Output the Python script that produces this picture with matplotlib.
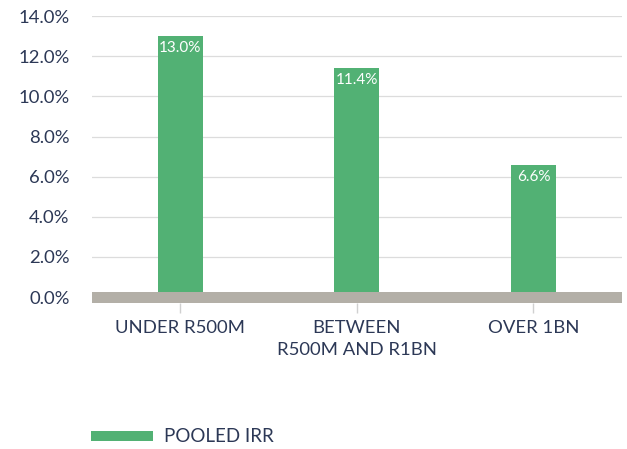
import matplotlib.pyplot as plt
from matplotlib.patches import Patch

# Pooled IRR by fund size
categories = ['UNDER R500M', 'BETWEEN\nR500M AND R1BN', 'OVER 1BN']
pooled_irr = [13.0, 11.4, 6.6]
y_ticks = [0, 2, 4, 6, 8, 10, 12, 14]

green = '#52b174'
navy = '#2c3856'
band = '#b3afa7'

plt.rcParams['font.family'] = ['Lato', 'DejaVu Sans']

fig = plt.figure(figsize=(6.27, 4.49), dpi=100)
ax = fig.add_axes([0.1467, 0.325, 0.845, 0.639])

x = range(len(categories))
bars = ax.bar(x, pooled_irr, width=0.255, color=green, zorder=2)

# value labels inside the top of each bar
for xi, v in zip(x, pooled_irr):
    ax.text(xi, v - 0.25, f'{v:.1f}%', ha='center', va='top',
            color='white', fontsize=11, zorder=3)

# thick grey baseline band
ax.axhspan(-0.3, 0.25, color=band, zorder=4, lw=0)

ax.set_xlim(-0.5, 2.5)
ax.set_ylim(-0.3, 14)
ax.set_yticks(y_ticks)
ax.set_yticklabels([f'{t:.1f}%' for t in y_ticks])
ax.set_xticks(list(x))
ax.set_xticklabels(categories)

ax.grid(axis='y', color='#dcdcdc', lw=0.9, zorder=0)
ax.set_axisbelow(True)
for s in ax.spines.values():
    s.set_visible(False)

ax.tick_params(axis='y', length=0, pad=16, labelsize=13.3, labelcolor=navy)
ax.tick_params(axis='x', length=7, width=1, color='#d0d0d0', pad=5,
               labelsize=13.3, labelcolor=navy)
for lbl in ax.get_xticklabels():
    lbl.set_linespacing(1.45)

handle = Patch(facecolor=green, edgecolor='none', label='POOLED IRR')
fig.legend(handles=[handle], loc='center left', bbox_to_anchor=(0.119, 0.027),
           frameon=False, handlelength=3.3, handleheight=0.45,
           handletextpad=0.55, fontsize=13.5, labelcolor=navy)

fig.savefig('out.png', dpi=100)
